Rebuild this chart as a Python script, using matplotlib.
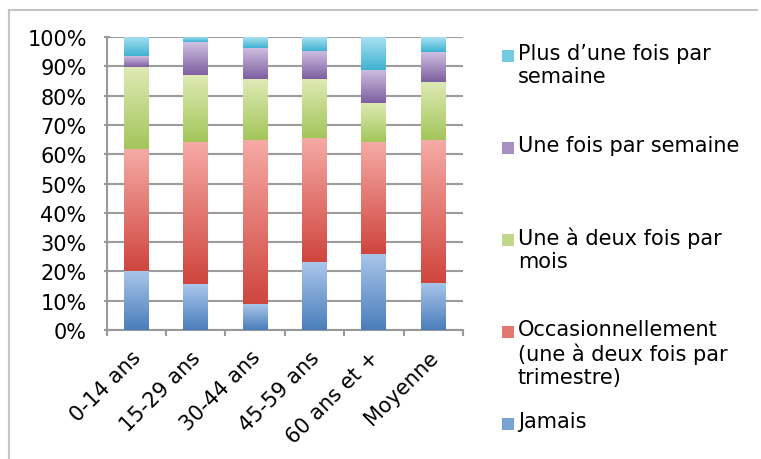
import numpy as np
import matplotlib.pyplot as plt
from matplotlib.colors import LinearSegmentedColormap, to_rgb
from matplotlib.patches import Rectangle
from matplotlib.lines import Line2D
from matplotlib.transforms import ScaledTranslation

categories = ["0-14 ans", "15-29 ans", "30-44 ans", "45-59 ans", "60 ans et +", "Moyenne"]

jamais = [20.3, 15.6, 8.8, 23.1, 26.1, 16.2]
occasionnellement = [41.6, 48.7, 56.2, 42.6, 37.9, 48.5]
une_deux_mois = [28.0, 22.9, 20.5, 19.8, 13.6, 20.1]
une_semaine = [3.6, 11.0, 10.9, 9.8, 11.3, 10.2]
plus_semaine = [6.5, 1.8, 3.6, 4.7, 11.1, 5.0]

series = [jamais, occasionnellement, une_deux_mois, une_semaine, plus_semaine]
labels = ["Jamais",
          "Occasionnellement\n(une à deux fois par\ntrimestre)",
          "Une à deux fois par\nmois",
          "Une fois par semaine",
          "Plus d\u2019une fois par\nsemaine"]
# (top colour, bottom colour) of each gradient
gradients = [("#a9c6ea", "#4a7ebb"),
             ("#f6aaa5", "#cf463e"),
             ("#dfeab5", "#a3c65a"),
             ("#cfbfe2", "#7d60a0"),
             ("#a9e1f1", "#3fb2d1")]

plt.rcParams['font.family'] = ['DejaVu Sans']
FS = 15

fig = plt.figure(figsize=(7.61, 4.60), dpi=100)
ax = fig.add_axes([0.140, 0.2804, 0.4684, 0.637])

# chart border (only top and left visible in the picture)
bx, by = 9 / 761, 1 - 11 / 460
fig.add_artist(Line2D([bx, bx], [0, by], transform=fig.transFigure,
                      color="#c4c4c4", linewidth=1.5))
fig.add_artist(Line2D([bx, 0.995], [by, by], transform=fig.transFigure,
                      color="#c4c4c4", linewidth=1.5))

x = np.arange(len(categories))
bottom = np.zeros(len(categories))
grad = np.linspace(1, 0, 100).reshape(-1, 1)
for vals, (top_c, bot_c) in zip(series, gradients):
    vals = np.array(vals)
    bars = ax.bar(x, vals, 0.42, bottom=bottom, color=bot_c, linewidth=0, zorder=3)
    cmap = LinearSegmentedColormap.from_list("g", [bot_c, top_c])
    for b in bars:
        x0, y0 = b.get_x(), b.get_y()
        im = ax.imshow(grad, cmap=cmap, aspect="auto", vmin=0, vmax=1,
                       extent=(x0, x0 + b.get_width(), y0, y0 + b.get_height()),
                       zorder=4)
        im.set_clip_path(b)
    bottom += vals

ax.set_xlim(-0.5, len(categories) - 0.5)
ax.set_ylim(0, 100)
ax.set_yticks(np.arange(0, 101, 10))
ax.set_yticklabels([f"{v}%" for v in range(0, 101, 10)], fontsize=FS)
ax.set_xticks(np.arange(-0.5, len(categories)), minor=True)
ax.tick_params(axis="x", which="major", length=0, pad=12)
ax.tick_params(axis="x", which="minor", length=4, width=1.5, color="#999999", direction="out")
ax.tick_params(axis="y", length=4.5, width=1.5, color="#999999", direction="inout", pad=12)
ax.yaxis.grid(True, color="#9c9c9c", linewidth=1.5, zorder=0)
ax.set_axisbelow(True)
for s in ["top", "right"]:
    ax.spines[s].set_visible(False)
for s in ["left", "bottom"]:
    ax.spines[s].set_color("#999999")
    ax.spines[s].set_linewidth(1.5)

ax.set_xticks(x)
ax.set_xticklabels(categories, fontsize=FS, rotation=45, ha="right",
                   rotation_mode="anchor")
shift = ScaledTranslation(-5 / 100, 0, fig.dpi_scale_trans)
for lab in ax.xaxis.get_majorticklabels():
    lab.set_transform(lab.get_transform() + shift)

# legend, placed like the original (reverse order, evenly spaced first lines)
for k, i in enumerate(range(len(series) - 1, -1, -1)):
    ypx = 57 + 92 * k
    yf = 1 - ypx / 460
    mid = 0.5 * (np.array(to_rgb(gradients[i][0])) + np.array(to_rgb(gradients[i][1])))
    fig.patches.append(Rectangle((502 / 761, yf - 6 / 460), 12 / 761, 12 / 460,
                                 transform=fig.transFigure,
                                 facecolor=mid, edgecolor="none"))
    fig.text(518 / 761, yf + 13 / 460, labels[i], fontsize=FS, va="top", ha="left",
             linespacing=1.18)

fig.savefig("out.png", dpi=100)
